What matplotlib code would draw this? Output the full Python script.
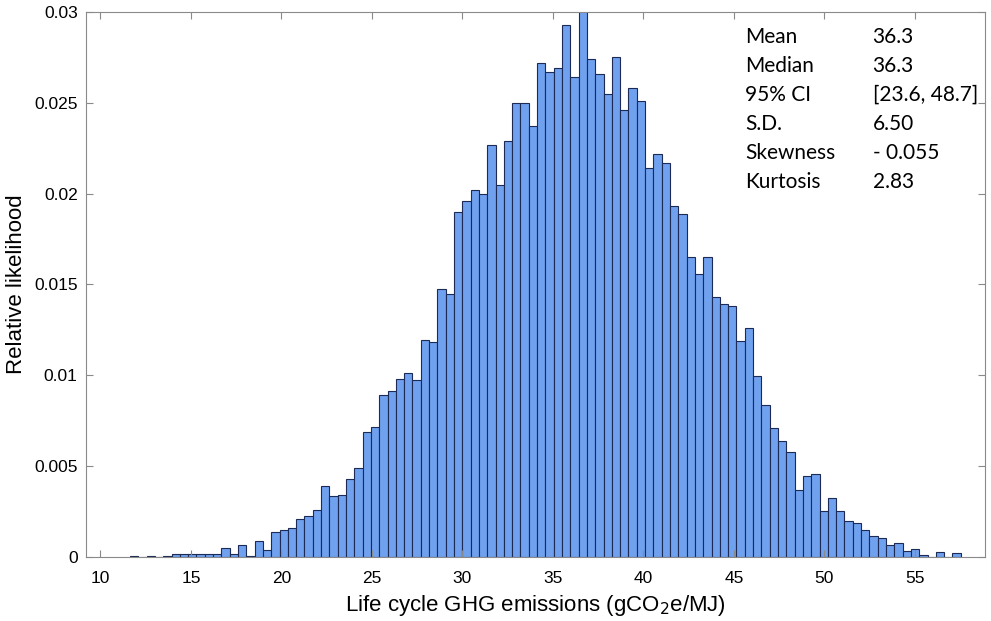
import matplotlib.pyplot as plt
import numpy as np

# histogram of 100 bins between the sample min and max
x_min, x_max = 11.63, 57.54
likelihood = [
    0.00006, 0.0, 0.00006, 0.0, 0.00008, 0.00015, 0.00015, 0.00015, 0.00015, 0.00015,
    0.00015, 0.00048, 0.00015, 0.00066, 0.00006, 0.00088, 0.0004, 0.00138, 0.00149, 0.0016,
    0.0021, 0.00228, 0.0026, 0.00388, 0.00333, 0.0034, 0.0043, 0.00489, 0.0069, 0.00713,
    0.00893, 0.00916, 0.00982, 0.01013, 0.00976, 0.01195, 0.01186, 0.01476, 0.01449, 0.0190,
    0.0196, 0.0202, 0.0200, 0.0227, 0.0205, 0.0229, 0.0250, 0.0250, 0.0237, 0.0272,
    0.0267, 0.0269, 0.0293, 0.0264, 0.0305, 0.0274, 0.0266, 0.0255, 0.0275, 0.0246,
    0.0258, 0.0251, 0.0214, 0.0222, 0.0217, 0.0193, 0.0189, 0.0165, 0.0156, 0.0165,
    0.0143, 0.0139, 0.0138, 0.0119, 0.0126, 0.00998, 0.00838, 0.0071, 0.0064, 0.0058,
    0.0037, 0.00445, 0.00458, 0.00255, 0.00327, 0.00255, 0.00199, 0.00186, 0.00147, 0.00117,
    0.00107, 0.00066, 0.00075, 0.00035, 0.00045, 0.0001, 0.0, 0.0003, 0.0, 0.00024,
]

x_ticks = [10, 15, 20, 25, 30, 35, 40, 45, 50, 55]
y_ticks = [0, 0.005, 0.01, 0.015, 0.02, 0.025, 0.03]
y_tick_labels = ['0', '0.005', '0.01', '0.015', '0.02', '0.025', '0.03']

stat_names = ['Mean', 'Median', '95% CI', 'S.D.', 'Skewness', 'Kurtosis']
stat_values = ['36.3', '36.3', '[23.6, 48.7]', '6.50', '- 0.055', '2.83']

plt.rcParams['font.family'] = ['Liberation Sans', 'DejaVu Sans']

fig = plt.figure(figsize=(9.91, 6.21), dpi=100)
ax = fig.add_axes([0.0868, 0.1031, 0.907, 0.8776])

edges = np.linspace(x_min, x_max, len(likelihood) + 1)
ax.bar(edges[:-1], likelihood, width=np.diff(edges), align='edge',
       color='#6fa1ef', edgecolor='#1c2a55', linewidth=0.8)

ax.set_xlim(9.2, 58.87)
ax.set_ylim(0, 0.03)
ax.set_xticks(x_ticks)
ax.set_yticks(y_ticks)
ax.set_yticklabels(y_tick_labels)
ax.tick_params(direction='in', length=5, color='#8a8a8a', labelsize=12.5,
               top=True, right=True, pad=6)
ax.tick_params(axis='x', pad=10)
for sp in ax.spines.values():
    sp.set_color('#8a8a8a')
    sp.set_linewidth(0.8)

ax.set_xlabel('Life cycle GHG emissions (gCO$_2$e/MJ)', fontsize=16, labelpad=5)
ax.set_ylabel('Relative likelihood', fontsize=16, labelpad=5)

# summary statistics in the top right corner
for i, (name, val) in enumerate(zip(stat_names, stat_values)):
    y = 0.954 - i * 0.0532
    ax.text(0.733, y, name, transform=ax.transAxes, fontsize=15,
            family=['Lato', 'DejaVu Sans'], va='center')
    ax.text(0.875, y, val, transform=ax.transAxes, fontsize=15,
            family=['Lato', 'DejaVu Sans'], va='center')

plt.savefig('out.png', dpi=100)
